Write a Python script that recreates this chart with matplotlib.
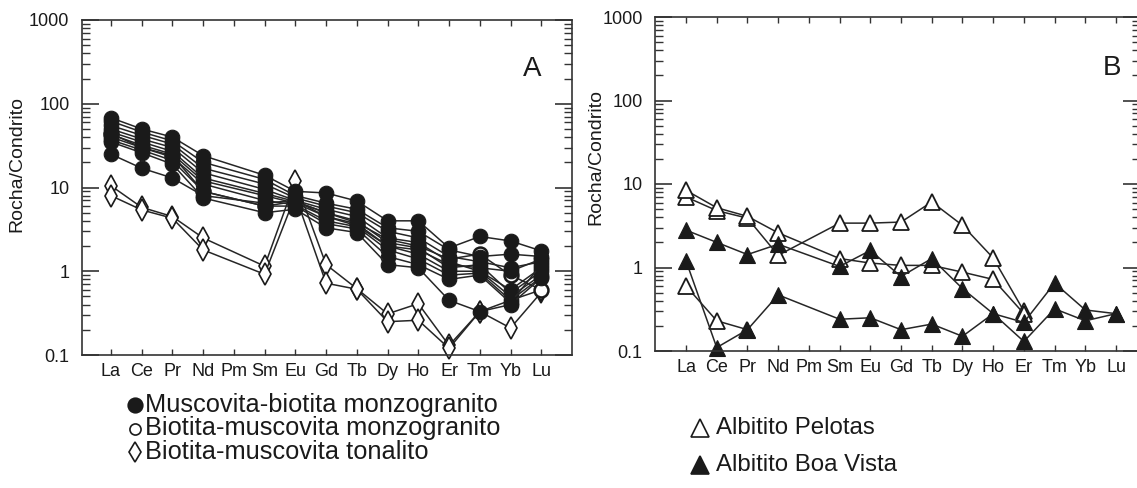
import numpy as np
import matplotlib.pyplot as plt
from matplotlib.lines import Line2D
from matplotlib.ticker import LogLocator, NullFormatter

plt.rcParams['font.family'] = ['Liberation Sans', 'DejaVu Sans']

# chondrite-normalised REE patterns
elements = ['La', 'Ce', 'Pr', 'Nd', 'Pm', 'Sm', 'Eu', 'Gd', 'Tb', 'Dy', 'Ho', 'Er', 'Tm', 'Yb', 'Lu']
measured = ['La', 'Ce', 'Pr', 'Nd', 'Sm', 'Eu', 'Gd', 'Tb', 'Dy', 'Ho', 'Er', 'Tm', 'Yb', 'Lu']

# A: muscovita-biotita monzogranito
mb_monzogranito = [
    [68, 50, 40, 24, 14, 9.0, 8.6, 6.9, 4.0, 4.0, 1.9, 2.6, 2.3, 1.75],
    [62, 46, 36, 20, 12.5, 8.0, 6.5, 5.5, 3.3, 3.0, 1.8, 1.5, 1.6, 1.5],
    [55, 42, 33, 17, 11, 7.5, 6.0, 5.0, 3.0, 2.5, 1.5, 1.3, 1.1, 1.3],
    [50, 38, 30, 15, 9.5, 7.0, 5.5, 4.5, 2.5, 2.2, 1.3, 1.0, 0.6, 1.1],
    [46, 35, 27, 13, 8.5, 6.8, 5.0, 4.0, 2.2, 1.9, 1.1, 1.2, 0.55, 1.0],
    [43, 32, 25, 12, 8.0, 6.5, 4.5, 3.7, 2.0, 1.6, 1.0, 1.0, 0.5, 0.9],
    [40, 30, 23, 11, 7.0, 6.2, 4.0, 3.4, 1.8, 1.4, 0.9, 0.95, 0.45, 0.85],
    [37, 28, 21, 9.0, 6.0, 6.0, 3.7, 3.2, 1.5, 1.2, 0.8, 0.9, 0.42, 1.2],
    [35, 26, 19, 7.5, 5.0, 5.5, 3.3, 2.9, 1.2, 1.1, 0.45, 0.33, 0.4, 0.83],
    [25, 17, 13, 8.0, 6.5, 7.0, 4.5, 3.5, 2.0, 1.8, 1.2, 1.1, 1.0, 1.4],
]
# A: biotita-muscovita monzogranito
bm_monzogranito = [
    [44, 30, 24, 9.0, 6.0, 6.8, 5.0, 3.8, 2.4, 2.0, 1.4, 1.6, 0.9, 0.6],
]
# A: biotita-muscovita tonalito
bm_tonalito = [
    [10.5, 5.8, 4.5, 2.5, 1.15, 12, 1.2, 0.62, 0.31, 0.41, 0.13, 0.33, 0.21, 0.56],
    [8.0, 5.4, 4.3, 1.8, 0.92, 8.0, 0.72, 0.61, 0.25, 0.26, 0.12, 0.33, 0.45, 0.6],
]

# B: albitito Pelotas
pelotas = [
    [7.0, 4.8, 3.9, 1.4, 3.4, 3.4, 3.5, 6.1, 3.2, 1.3, 0.30, np.nan, np.nan, np.nan],
    [8.4, 5.2, 4.1, 2.6, 1.28, 1.13, 1.06, 1.06, 0.88, 0.72, 0.28, np.nan, np.nan, np.nan],
    [0.6, 0.23, 0.18, np.nan, np.nan, np.nan, np.nan, np.nan, np.nan, np.nan, np.nan, np.nan, np.nan, np.nan],
]
# B: albitito Boa Vista
boa_vista = [
    [2.8, 2.0, 1.43, 1.9, 1.03, 1.6, 0.78, 1.28, 0.56, 0.28, 0.22, 0.65, 0.31, 0.28],
    [1.2, 0.11, 0.18, 0.47, 0.24, 0.25, 0.18, 0.21, 0.15, 0.28, 0.13, 0.32, 0.23, 0.28],
]

xpos = np.array([elements.index(e) for e in measured])
line_c = '#262626'
ink = '#1a1a1a'


def plot_group(ax, group, **kw):
    for row in group:
        y = np.array(row, dtype=float)
        ok = ~np.isnan(y)
        ax.plot(xpos[ok], y[ok], color=line_c, lw=1.1,
                markeredgecolor=ink, clip_on=False, **kw)


def style_axes(ax, xlim):
    ax.set_yscale('log')
    ax.set_ylim(0.1, 1000)
    ax.set_xlim(*xlim)
    ax.set_xticks(range(len(elements)))
    ax.set_xticklabels(elements)
    ax.yaxis.set_minor_locator(LogLocator(base=10, subs=np.arange(2, 10), numticks=10))
    ax.yaxis.set_minor_formatter(NullFormatter())
    ax.set_yticks([0.1, 1, 10, 100, 1000])
    ax.set_yticklabels(['0.1', '1', '10', '100', '1000'])
    ax.tick_params(axis='both', which='both', direction='in', top=True, right=True,
                   color='#333333', labelcolor=ink)
    ax.tick_params(axis='y', which='major', length=12, width=1.2, pad=9, labelsize=13)
    ax.tick_params(axis='y', which='minor', length=6, width=1.0)
    ax.tick_params(axis='x', which='major', length=4, width=1.0, pad=6, labelsize=13)
    for s in ax.spines.values():
        s.set_color('#333333')
        s.set_linewidth(1.2)


fig = plt.figure(figsize=(11.37, 4.88), dpi=100)

axA = fig.add_axes([82 / 1137, 1 - 355 / 488, 490 / 1137, 335 / 488])
plot_group(axA, bm_tonalito, marker='d', ms=11, mfc='white', mew=1.2)
plot_group(axA, bm_monzogranito, marker='o', ms=10, mfc='white', mew=1.8)
plot_group(axA, mb_monzogranito, marker='o', ms=10.5, mfc=ink, mew=0.8)
style_axes(axA, (-0.94, 15.0))
axA.set_ylabel('Rocha/Condrito', fontsize=14, color=ink)
axA.yaxis.set_label_coords(-0.115, 0.57)
axA.text(0.918, 0.855, 'A', transform=axA.transAxes, fontsize=20,
         ha='center', va='center', color=ink)

axB = fig.add_axes([655 / 1137, 1 - 351 / 488, 485 / 1137, 334 / 488])
plot_group(axB, pelotas, marker='^', ms=11, mfc='white', mew=1.3)
plot_group(axB, boa_vista, marker='^', ms=11, mfc=ink, mew=0.8)
style_axes(axB, (-1.01, 14.78))
axB.set_ylabel('Rocha/Condrito', fontsize=14, color=ink)
axB.yaxis.set_label_coords(-0.105, 0.58)
axB.text(0.942, 0.847, 'B', transform=axB.transAxes, fontsize=20,
         ha='center', va='center', color=ink)

# legend keys below each panel
legA = [('o', ink, 'Muscovita-biotita monzogranito', 10.5),
        ('o', 'white', 'Biotita-muscovita monzogranito', 8),
        ('d', 'white', 'Biotita-muscovita tonalito', 10)]
for i, (m, fc, label, ms) in enumerate(legA):
    yy = 1 - (405 + 23.5 * i) / 488
    fig.add_artist(Line2D([135 / 1137], [yy], transform=fig.transFigure, marker=m,
                          ms=ms, mfc=fc, mec=ink, mew=1.2, ls='none'))
    fig.text(145 / 1137, yy, label, fontsize=18.3, va='center', ha='left', color=ink)

legB = [('^', 'white', 'Albitito Pelotas'), ('^', ink, 'Albitito Boa Vista')]
for i, (m, fc, label) in enumerate(legB):
    yy = 1 - (428 + 37 * i) / 488
    fig.add_artist(Line2D([700 / 1137], [yy], transform=fig.transFigure, marker=m,
                          ms=13, mfc=fc, mec=ink, mew=1.2, ls='none'))
    fig.text(716 / 1137, yy, label, fontsize=17.3, va='center', ha='left', color=ink)

fig.savefig('out.png', dpi=100, facecolor='white')
